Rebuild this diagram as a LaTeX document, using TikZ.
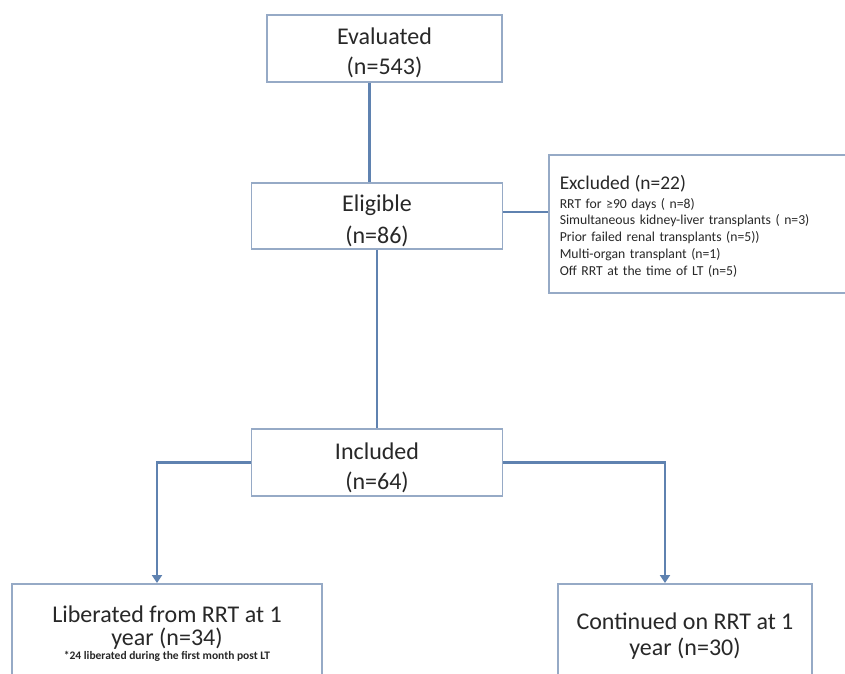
\documentclass[tikz,border=0pt]{standalone}
\usepackage{fontspec}
\setmainfont{Carlito}
\usetikzlibrary{arrows.meta}
\definecolor{boxline}{RGB}{150,170,198}
\definecolor{conn}{RGB}{95,130,176}
\definecolor{txt}{RGB}{40,40,40}
\newcommand{\toppad}[1]{\rule{0pt}{#1}}
\begin{document}
\begin{tikzpicture}[x=1pt,y=-1pt,
    stage/.style={draw=boxline,line width=1.5pt,fill=white,text=txt,align=center,inner sep=0pt},
    conline/.style={draw=conn,line width=2.5pt},
    conarrow/.style={conline,-{Triangle[width=10pt,length=8pt]}}]
    \useasboundingbox[fill=white] (0,0) rectangle (845,673);

    \node[stage,minimum width=235pt,minimum height=67pt,font=\fontsize{24}{30}\selectfont]
      (eval) at (384.5,48.5) {\toppad{26pt}Evaluated\\(n=543)};
    \node[stage,minimum width=251pt,minimum height=66pt,font=\fontsize{24}{32}\selectfont]
      (elig) at (377,216) {\toppad{27pt}Eligible\\(n=86)};
    \node[stage,minimum width=251pt,minimum height=67pt,font=\fontsize{24}{30}\selectfont]
      (incl) at (377,462.5) {\toppad{27pt}Included\\(n=64)};
    \node[stage,anchor=north west,minimum width=310pt,minimum height=138pt,align=left,
      text width=290pt,inner xsep=11pt,font=\fontsize{13.7}{16.7}\selectfont]
      (excl) at (548,154) {{\fontsize{19.4}{19}\selectfont\toppad{19pt}Excluded (n=22)}\\[2pt]
      RRT for ≥90 days ( n=8)\\
      Simultaneous kidney-liver transplants ( n=3)\\
      Prior failed renal transplants (n=5))\\
      Multi-organ transplant (n=1)\\
      Off RRT at the time of LT (n=5)};
    \node[stage,anchor=north,minimum width=310pt,minimum height=100pt,font=\fontsize{24}{23}\selectfont]
      (lib) at (167,583) {Liberated from RRT at 1\\year (n=34)\\[-9pt]
      {\fontsize{11.5}{12}\bfseries\selectfont *24 liberated during the first month post LT}};
    \node[stage,anchor=north,minimum width=254pt,minimum height=104pt,font=\fontsize{24}{26}\selectfont]
      (cont) at (685,583) {Continued on RRT at 1\\year (n=30)};

    \draw[conline] ([xshift=-15pt]eval.south) -- ([xshift=-15pt]eval.south |- elig.north);
    \draw[conline] ([yshift=4pt]elig.east) -- ([yshift=4pt]elig.east -| excl.west);
    \draw[conline] (elig.south) -- (incl.north);
    \draw[conarrow] (incl.west) -| ([xshift=-10pt]lib.north);
    \draw[conarrow] (incl.east) -| ([xshift=-20pt]cont.north);
  \end{tikzpicture}
\end{document}
